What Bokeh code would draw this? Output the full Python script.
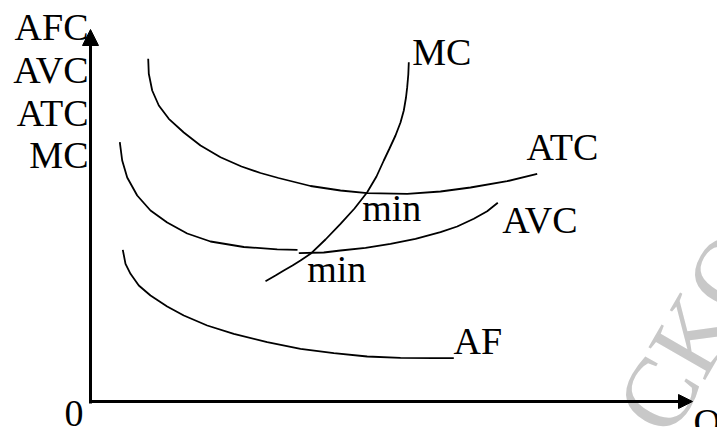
from bokeh.plotting import figure
from bokeh.models import Range1d, Arrow, NormalHead
from bokeh.core.properties import value
from bokeh.embed import file_html
from bokeh.resources import INLINE

# ---- data (Q on x, cost on y) ----
atc_q = [5.77, 5.83, 6.17, 6.83, 7.83, 9.33, 11.0, 13.0, 15.1, 17.0, 18.8, 22.0, 25.0,
         27.67, 31.67, 35.0, 38.0, 41.67, 44.67]
atc_c = [34.27, 32.77, 31.1, 29.6, 28.27, 26.9, 25.6, 24.43, 23.5, 22.85, 22.35, 21.55, 21.1,
         20.83, 20.77, 21.0, 21.4, 22.03, 22.77]

avc_left_q = [2.93, 3.17, 3.67, 4.67, 6.0, 7.67, 9.67, 12.0, 15.33, 18.67, 20.7]
avc_left_c = [25.93, 24.1, 22.4, 20.6, 19.1, 17.9, 16.8, 16.0, 15.45, 15.22, 15.17]
avc_right_q = [20.83, 23.33, 25.0, 27.5, 30.0, 32.5, 35.0, 36.67, 38.33, 39.67, 40.73]
avc_right_c = [14.83, 14.9, 15.1, 15.37, 15.77, 16.27, 16.93, 17.5, 18.27, 19.03, 19.87]

mc_q = [17.5, 18.5, 19.33, 20.2, 21.0, 22.0, 23.5, 25.0, 26.4, 27.67, 28.6, 29.33, 29.9,
        30.5, 31.0, 31.33, 31.55, 31.67, 31.78, 31.83]
mc_c = [12.03, 12.6, 13.1, 13.6, 14.1, 14.77, 16.2, 17.77, 19.3, 20.93, 22.5, 24.1, 25.3,
        26.6, 27.9, 29.1, 30.4, 31.43, 32.7, 33.93]

afc_q = [3.23, 3.5, 4.0, 4.83, 6.0, 7.67, 9.33, 11.67, 14.33, 17.67, 21.0, 24.33, 27.67,
         31.0, 34.33, 36.33]
afc_c = [15.17, 13.77, 12.77, 11.6, 10.6, 9.5, 8.6, 7.6, 6.77, 5.93, 5.27, 4.83, 4.5,
         4.37, 4.33, 4.33]

# axes (origin and arrow tips)
axis_origin = (0.0, 0.0)
y_axis_top = 37.2
x_axis_right = 60.2

# labels
curve_labels = ["MC", "ATC", "AVC", "min", "min", "AF"]
curve_label_q = [32.17, 43.6, 41.17, 27.17, 21.67, 36.3]
curve_label_c = [34.95, 25.42, 18.18, 19.35, 13.28, 6.05]

y_title_lines = ["AFC", "AVC", "ATC", "MC"]
y_title_c = [37.42, 33.18, 28.85, 24.68]

origin_label = ["0"]
q_label = ["Q"]

FONT = value("Liberation Serif")
FS = "38px"

p = figure(width=717, height=427, output_backend="svg", toolbar_location=None,
           x_range=Range1d(-9.0, 62.7), y_range=Range1d(-2.6, 40.1),
           min_border=0, min_border_left=0, min_border_right=0,
           min_border_top=0, min_border_bottom=0)
p.axis.visible = False
p.grid.visible = False
p.outline_line_color = None
p.background_fill_color = "white"
p.border_fill_color = "white"

# watermark
p.text(x=[55.1], y=[-2.2], text=["CKO"], angle=1.047, text_font=FONT,
       text_font_size="100px", text_color="#c8c8c8", text_baseline="alphabetic")

# curves
lw = 1.8
p.line(atc_q, atc_c, line_color="black", line_width=lw)
p.line(avc_left_q, avc_left_c, line_color="black", line_width=lw)
p.line(avc_right_q, avc_right_c, line_color="black", line_width=lw)
p.line(mc_q, mc_c, line_color="black", line_width=lw)
p.line(afc_q, afc_c, line_color="black", line_width=lw)

# axes with arrows
p.add_layout(Arrow(end=NormalHead(size=16, fill_color="black", line_color="black", line_width=1),
                   x_start=axis_origin[0], y_start=axis_origin[1] - 0.2,
                   x_end=axis_origin[0], y_end=y_axis_top,
                   line_color="black", line_width=3))
p.add_layout(Arrow(end=NormalHead(size=14, fill_color="black", line_color="black", line_width=1),
                   x_start=axis_origin[0] - 0.1, y_start=axis_origin[1],
                   x_end=x_axis_right, y_end=axis_origin[1],
                   line_color="black", line_width=3))

# texts
p.text(x=curve_label_q, y=curve_label_c, text=curve_labels, text_font=FONT,
       text_font_size=FS, text_color="black", text_baseline="alphabetic", text_align="left")
p.text(x=[-0.2] * len(y_title_lines), y=y_title_c, text=y_title_lines, text_font=FONT,
       text_font_size=FS, text_color="black", text_baseline="alphabetic", text_align="right")
p.text(x=[-0.7], y=[-1.15], text=origin_label, text_font=FONT, text_font_size=FS,
       text_color="black", text_baseline="alphabetic", text_align="right")
p.text(x=[60.3], y=[-2.05], text=q_label, text_font=FONT, text_font_size=FS,
       text_color="black", text_baseline="alphabetic", text_align="left")

open("out.html", "w").write(file_html(p, INLINE))
